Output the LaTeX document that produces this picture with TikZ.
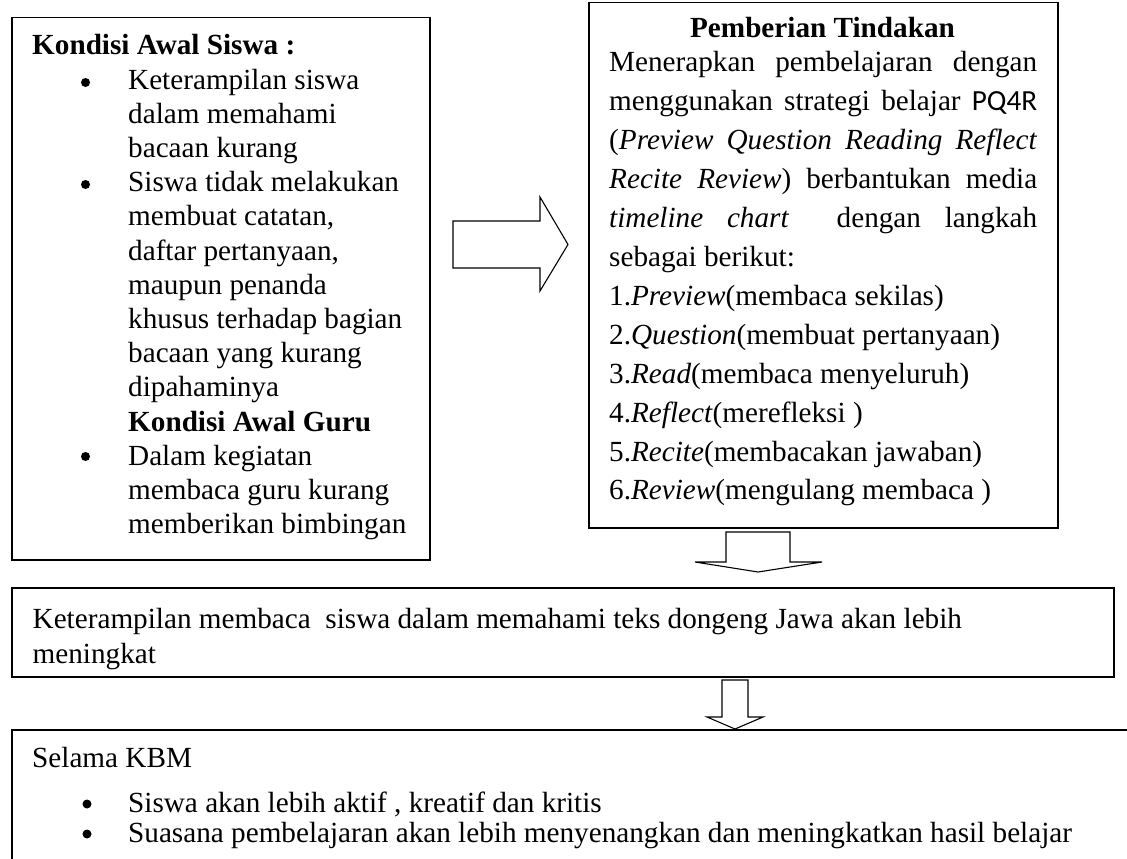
\documentclass[tikz,border=0pt]{standalone}
\usepackage{fontspec}
\setmainfont{Liberation Serif}[Ligatures={TeX,NoCommon}]
\newfontfamily\carlito{Carlito}
\newcommand\myind{\hspace*{96pt}}
\begin{document}
\begin{tikzpicture}[x=1pt,y=-1pt,
  font=\fontsize{29.2pt}{34.2pt}\selectfont,
  box/.style={draw, line width=1.5pt, inner sep=0pt, anchor=north west},
  txt/.style={inner sep=0pt, anchor=base west},
  bulletdot/.style={fill=black},
  blockarrow/.style={draw, line width=1.1pt, line join=miter}]
\useasboundingbox (0,0) rectangle (1127,859);
\clip (0,0) rectangle (1127,859);
% boxes
\node[box, minimum width=418pt, minimum height=542pt] (kondisi) at (11,17) {};
\node[box, minimum width=469pt, minimum height=525pt] (tindakan) at (588,2) {};
\node[box, minimum width=1102pt, minimum height=89pt] (hasil) at (11,587) {};
\node[box, minimum width=1200pt, minimum height=200pt] (kbm) at (11,729) {};
% left text
\node[txt] (kondisitext) at (32,55) {\parbox[t]{395pt}{%
\textbf{Kondisi Awal Siswa :}\\
\myind Keterampilan siswa\\
\myind dalam memahami\\
\myind bacaan kurang\\
\myind Siswa tidak melakukan\\
\myind membuat catatan,\\
\myind daftar pertanyaan,\\
\myind maupun penanda\\
\myind khusus terhadap bagian\\
\myind bacaan yang kurang\\
\myind dipahaminya\\
\myind\textbf{Kondisi Awal Guru}\\
\myind Dalam kegiatan\\
\myind membaca guru kurang\\
\myind memberikan bimbingan}};
\fill[bulletdot] (85.5,82.5) circle[radius=4.5pt];
\fill[bulletdot] (85.5,184.5) circle[radius=4.5pt];
\fill[bulletdot] (85.5,456.5) circle[radius=4.5pt];
% right text
\node[inner sep=0pt, anchor=base] (tindakantitle) at (822.5,38) {\textbf{Pemberian Tindakan}};
\node[txt] (tindakantext) at (609,72) {\parbox[t]{430pt}{\baselineskip=38.9pt
\makebox[428pt][s]{Menerapkan pembelajaran dengan}\\
\makebox[428pt][s]{menggunakan strategi belajar {\carlito PQ4R}}\\
\makebox[428pt][s]{(\textit{Preview Question Reading Reflect}}\\
\makebox[428pt][s]{\textit{Recite Review}) berbantukan media}\\
\makebox[428pt][s]{\textit{timeline chart}\ \ dengan langkah}\\
sebagai berikut:\\
1.\textit{Preview}(membaca sekilas)\\
2.\textit{Question}(membuat pertanyaan)\\
3.\textit{Read}(membaca menyeluruh)\\
4.\textit{Reflect}(merefleksi )\\
5.\textit{Recite}(membacakan jawaban)\\
6.\textit{Review}(mengulang membaca )}};
% middle text
\node[txt] (hasiltext) at (32.5,628) {\parbox[t]{1060pt}{\baselineskip=35pt
Keterampilan membaca\ \ siswa dalam memahami teks dongeng Jawa akan lebih\\
meningkat}};
% bottom text
\node[txt] (kbmtext) at (32,767) {\parbox[t]{1080pt}{\baselineskip=30pt
Selama KBM\\[15pt]
\myind Siswa akan lebih aktif , kreatif dan kritis\\
\myind Suasana pembelajaran akan lebih menyenangkan dan meningkatkan hasil belajar}};
\fill[bulletdot] (87,804) circle[radius=4.5pt];
\fill[bulletdot] (87,834) circle[radius=4.5pt];
% block arrows
\draw[blockarrow] (453,221) -- (540,221) -- (540,197) -- (568,244.5) -- (540,291) -- (540,268) -- (453,268) -- cycle;
\draw[blockarrow] (726,532) -- (790,532) -- (790,562) -- (822,562) -- (758,572) -- (695,562) -- (726,562) -- cycle;
\draw[blockarrow] (722,680) -- (748,680) -- (748,717) -- (763,717) -- (735,729) -- (707,717) -- (722,717) -- cycle;
\end{tikzpicture}
\end{document}
